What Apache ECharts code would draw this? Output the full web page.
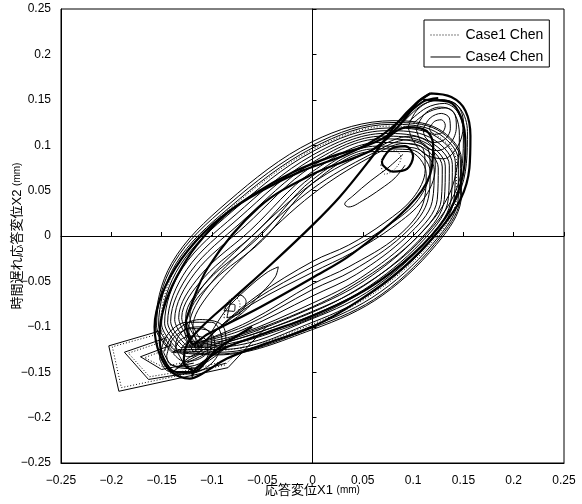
<!DOCTYPE html>
<html><head><meta charset="utf-8">
<script src="https://cdn.jsdelivr.net/npm/echarts@6/dist/echarts.min.js"></script>
<style>html,body{margin:0;padding:0;background:#fff}#c{width:582px;height:504px}</style>
</head><body><div id="c"></div>
<script>
const AXIS_MIN = -0.25, AXIS_MAX = 0.25, AXIS_STEP = 0.05;
const legendNames = ['Case1 Chen', 'Case4 Chen'];
const xTitle = '応答変位X1 ';
const yTitle = '時間遅れ応答変位X2 ';
const unitText = '(mm)';

// ---- Case4 Chen : thin big loops ----
const A1 = [[-0.140,-0.128],[-0.156,-0.100],[-0.140,-0.030],[-0.085,0.037],[0,0.104],[0.080,0.127],[0.125,0.118],[0.148,0.085],[0.148,0.045],[0.130,0.000],[0.070,-0.065],[0,-0.103],[-0.095,-0.131],[-0.140,-0.128]];
const A1b = [[-0.139,-0.127],[-0.155,-0.099],[-0.138,-0.030],[-0.084,0.034],[0,0.100],[0.079,0.125],[0.124,0.117],[0.147,0.084],[0.147,0.045],[0.128,0.000],[0.069,-0.064],[0,-0.101],[-0.094,-0.130],[-0.139,-0.127]];
const A2 = [[-0.137,-0.126],[-0.153,-0.098],[-0.136,-0.031],[-0.083,0.031],[0,0.097],[0.078,0.123],[0.122,0.115],[0.145,0.083],[0.145,0.044],[0.126,0.000],[0.067,-0.062],[0,-0.099],[-0.092,-0.128],[-0.137,-0.126]];
const A3 = [[-0.134,-0.125],[-0.150,-0.097],[-0.132,-0.033],[-0.080,0.027],[0,0.093],[0.076,0.119],[0.119,0.112],[0.142,0.081],[0.141,0.043],[0.122,0.000],[0.064,-0.059],[0,-0.095],[-0.090,-0.125],[-0.134,-0.125]];
const A4 = [[-0.131,-0.123],[-0.147,-0.096],[-0.129,-0.035],[-0.077,0.023],[0,0.089],[0.074,0.116],[0.116,0.109],[0.139,0.079],[0.138,0.042],[0.118,0.000],[0.061,-0.057],[0,-0.091],[-0.087,-0.122],[-0.131,-0.123]];
const A5 = [[-0.128,-0.122],[-0.144,-0.095],[-0.125,-0.037],[-0.074,0.019],[0,0.085],[0.072,0.113],[0.113,0.106],[0.136,0.078],[0.135,0.041],[0.114,0.000],[0.058,-0.054],[0,-0.087],[-0.085,-0.119],[-0.128,-0.122]];
const A6 = [[-0.125,-0.121],[-0.141,-0.094],[-0.121,-0.039],[-0.071,0.015],[0,0.081],[0.070,0.110],[0.110,0.104],[0.132,0.077],[0.131,0.040],[0.110,0.000],[0.055,-0.052],[0,-0.083],[-0.082,-0.116],[-0.125,-0.121]];
const A7 = [[-0.122,-0.120],[-0.137,-0.092],[-0.117,-0.041],[-0.067,0.011],[0,0.077],[0.068,0.107],[0.107,0.102],[0.129,0.076],[0.128,0.040],[0.105,0.000],[0.052,-0.049],[0,-0.079],[-0.079,-0.113],[-0.122,-0.120]];
const A8 = [[-0.119,-0.119],[-0.133,-0.090],[-0.112,-0.044],[-0.062,0.006],[0,0.071],[0.066,0.103],[0.104,0.100],[0.125,0.075],[0.124,0.040],[0.100,0.000],[0.048,-0.046],[0,-0.074],[-0.075,-0.109],[-0.119,-0.119]];
const A9 = [[-0.116,-0.118],[-0.130,-0.090],[-0.108,-0.046],[-0.058,0.002],[0,0.066],[0.064,0.099],[0.101,0.097],[0.121,0.073],[0.119,0.038],[0.094,0.000],[0.044,-0.042],[0,-0.066],[-0.071,-0.104],[-0.116,-0.118]];
const A10 = [[-0.113,-0.117],[-0.126,-0.089],[-0.104,-0.049],[-0.054,-0.002],[0,0.062],[0.062,0.096],[0.098,0.095],[0.117,0.071],[0.114,0.037],[0.089,0.000],[0.040,-0.038],[0,-0.059],[-0.067,-0.099],[-0.113,-0.117]];
const A11 = [[-0.110,-0.116],[-0.122,-0.088],[-0.100,-0.051],[-0.050,-0.005],[0,0.058],[0.060,0.093],[0.095,0.093],[0.113,0.069],[0.110,0.036],[0.085,0.000],[0.036,-0.034],[0,-0.053],[-0.063,-0.094],[-0.110,-0.116]];
// inner narrow band
const B1 = [[-0.118,-0.128],[-0.127,-0.105],[-0.112,-0.060],[-0.065,-0.005],[0,0.058],[0.060,0.095],[0.098,0.110],[0.118,0.100],[0.122,0.075],[0.110,0.040],[0.080,0.010],[0.040,-0.018],[0,-0.040],[-0.060,-0.075],[-0.100,-0.108],[-0.118,-0.128]];
const B2 = [[-0.115,-0.126],[-0.123,-0.103],[-0.108,-0.062],[-0.062,-0.008],[0,0.052],[0.058,0.090],[0.095,0.106],[0.114,0.098],[0.117,0.074],[0.105,0.040],[0.076,0.012],[0.038,-0.014],[0,-0.034],[-0.057,-0.070],[-0.097,-0.105],[-0.115,-0.126]];
const B3 = [[-0.112,-0.124],[-0.119,-0.101],[-0.103,-0.064],[-0.058,-0.012],[0,0.046],[0.056,0.086],[0.092,0.102],[0.110,0.096],[0.112,0.073],[0.100,0.042],[0.072,0.015],[0.036,-0.010],[0,-0.028],[-0.054,-0.065],[-0.094,-0.102],[-0.112,-0.124]];
// right lobe outer thin runs
const R1 = [[0.090,0.125],[0.110,0.145],[0.130,0.150],[0.147,0.140],[0.154,0.115],[0.153,0.080],[0.145,0.045],[0.125,0.010],[0.090,-0.030],[0.040,-0.068],[0,-0.090],[-0.050,-0.110],[-0.095,-0.125],[-0.125,-0.140],[-0.140,-0.150]];
const R2 = [[0.095,0.125],[0.113,0.141],[0.131,0.146],[0.144,0.137],[0.150,0.113],[0.149,0.080],[0.141,0.046],[0.121,0.012],[0.087,-0.026],[0.038,-0.063],[0,-0.084],[-0.048,-0.104],[-0.092,-0.120],[-0.122,-0.136],[-0.136,-0.146]];
const R3 = [[0.100,0.124],[0.116,0.137],[0.132,0.141],[0.142,0.133],[0.146,0.111],[0.144,0.078],[0.136,0.046],[0.116,0.013],[0.083,-0.022],[0.035,-0.058],[0,-0.078],[-0.046,-0.099],[-0.090,-0.116],[-0.120,-0.132],[-0.132,-0.142]];
// upper right lobe spirals
const U1 = [[0.095,0.120],[0.105,0.140],[0.125,0.150],[0.143,0.145],[0.150,0.125],[0.145,0.100],[0.130,0.085],[0.112,0.090],[0.100,0.105],[0.095,0.120]];
const U2 = [[0.103,0.118],[0.112,0.135],[0.127,0.142],[0.140,0.137],[0.143,0.120],[0.137,0.102],[0.124,0.094],[0.110,0.100],[0.103,0.118]];
const U3 = [[0.110,0.118],[0.117,0.130],[0.128,0.135],[0.136,0.130],[0.137,0.118],[0.131,0.106],[0.120,0.103],[0.112,0.109],[0.110,0.118]];
const U4 = [[0.116,0.118],[0.121,0.126],[0.128,0.128],[0.132,0.122],[0.129,0.114],[0.121,0.112],[0.116,0.118]];
const V1 = [[0.090,0.090],[0.075,0.075],[0.058,0.061],[0.040,0.044],[0.032,0.035],[0.036,0.032],[0.050,0.039],[0.068,0.052],[0.082,0.064],[0.092,0.078]];
// lower left lobe spirals and small loops
const S1 = [[-0.152,-0.135],[-0.145,-0.110],[-0.125,-0.095],[-0.100,-0.095],[-0.090,-0.115],[-0.100,-0.140],[-0.125,-0.152],[-0.145,-0.148],[-0.152,-0.135]];
const S2 = [[-0.145,-0.132],[-0.138,-0.112],[-0.120,-0.102],[-0.102,-0.105],[-0.097,-0.122],[-0.108,-0.138],[-0.127,-0.144],[-0.142,-0.141],[-0.145,-0.132]];
const S3 = [[-0.138,-0.130],[-0.132,-0.115],[-0.118,-0.110],[-0.106,-0.114],[-0.104,-0.126],[-0.114,-0.136],[-0.128,-0.138],[-0.138,-0.130]];
const S4 = [[-0.132,-0.128],[-0.126,-0.118],[-0.116,-0.116],[-0.110,-0.122],[-0.114,-0.130],[-0.124,-0.133],[-0.132,-0.128]];
const S5 = [[-0.148,-0.128],[-0.136,-0.105],[-0.112,-0.092],[-0.090,-0.098],[-0.086,-0.118],[-0.100,-0.135],[-0.122,-0.146],[-0.140,-0.142],[-0.148,-0.128]];
const S6 = [[-0.128,-0.140],[-0.136,-0.120],[-0.128,-0.104],[-0.112,-0.100],[-0.100,-0.112],[-0.104,-0.132],[-0.116,-0.146],[-0.128,-0.140]];
const L1 = [[-0.100,-0.105],[-0.085,-0.080],[-0.065,-0.058],[-0.045,-0.040],[-0.034,-0.034],[-0.037,-0.045],[-0.050,-0.062],[-0.070,-0.085],[-0.090,-0.100],[-0.100,-0.105]];
const L2 = [[-0.085,-0.090],[-0.080,-0.070],[-0.072,-0.065],[-0.066,-0.072],[-0.072,-0.085],[-0.085,-0.090]];
const L3 = [[-0.088,-0.082],[-0.083,-0.075],[-0.077,-0.076],[-0.078,-0.083],[-0.088,-0.082]];

// ---- Case4 Chen : thick runs ----
const T1 = [[0.117,0.157],[0.138,0.153],[0.152,0.138],[0.157,0.110],[0.156,0.075],[0.147,0.040],[0.125,0.005],[0.090,-0.035],[0.045,-0.072],[0,-0.100],[-0.045,-0.118],[-0.085,-0.135],[-0.110,-0.152],[-0.122,-0.157],[-0.140,-0.150],[-0.152,-0.130],[-0.157,-0.100],[-0.150,-0.065],[-0.130,-0.025],[-0.100,0.012],[-0.060,0.045],[-0.020,0.070],[0.020,0.088],[0.055,0.100],[0.078,0.113],[0.094,0.132],[0.105,0.148],[0.117,0.157]];
const T2 = [[-0.126,-0.094],[-0.104,-0.035],[-0.053,0.032],[0,0.068],[0.058,0.094],[0.095,0.120],[0.113,0.116],[0.120,0.100],[0.117,0.068],[0.095,0.032],[0.039,-0.020],[0,-0.046],[-0.053,-0.079],[-0.104,-0.108],[-0.119,-0.119],[-0.126,-0.094]];
const T3 = [[0.117,0.157],[0.103,0.146],[0.084,0.124],[0.057,0.084],[0.027,0.043],[0,0.012],[-0.040,-0.030],[-0.080,-0.070],[-0.110,-0.100],[-0.125,-0.120],[-0.128,-0.140],[-0.115,-0.150]];
const T4 = [[0.069,0.083],[0.078,0.096],[0.092,0.099],[0.100,0.088],[0.094,0.074],[0.080,0.071],[0.070,0.078],[0.069,0.083]];
const T5 = [[0.110,0.150],[0.135,0.148],[0.148,0.130],[0.152,0.100],[0.148,0.060],[0.132,0.020],[0.100,-0.020],[0.055,-0.058],[0,-0.088],[-0.050,-0.108],[-0.090,-0.125],[-0.115,-0.145],[-0.120,-0.155]];
const T6 = [[-0.060,-0.100],[-0.095,-0.125],[-0.120,-0.150],[-0.135,-0.150],[-0.148,-0.135],[-0.152,-0.110],[-0.148,-0.080],[-0.135,-0.045],[-0.115,-0.010],[-0.085,0.025],[-0.050,0.050],[-0.010,0.072],[0.030,0.088],[0.065,0.108],[0.090,0.130],[0.110,0.148],[0.125,0.152]];

// ---- polygons (lower left) ----
const PS1 = [[-0.150,-0.104],[-0.2025,-0.121],[-0.1925,-0.171],[-0.130,-0.156],[-0.084,-0.145],[-0.045,-0.099]];
const PS2 = [[-0.145,-0.112],[-0.187,-0.128],[-0.163,-0.158],[-0.118,-0.150],[-0.086,-0.140]];
const PS3 = [[-0.140,-0.120],[-0.171,-0.133],[-0.150,-0.147],[-0.118,-0.140]];

// ---- Case1 Chen (dotted) ----
const PD1 = [[-0.150,-0.107],[-0.199,-0.122],[-0.190,-0.167],[-0.130,-0.153],[-0.087,-0.142],[-0.048,-0.098]];
const PD2 = [[-0.145,-0.115],[-0.183,-0.129],[-0.162,-0.155],[-0.118,-0.147],[-0.089,-0.138]];
const PD3 = [[-0.140,-0.123],[-0.167,-0.134],[-0.149,-0.144],[-0.118,-0.137]];
const D1 = [[0.068,0.078],[0.072,0.090],[0.082,0.094],[0.088,0.086],[0.082,0.074],[0.072,0.068],[0.068,0.078]];
const D2 = [[-0.088,-0.090],[-0.084,-0.072],[-0.076,-0.068],[-0.072,-0.076],[-0.078,-0.088],[-0.088,-0.090]];
const D3 = [[-0.135,-0.127],[-0.151,-0.099],[-0.134,-0.031],[-0.083,0.029],[0,0.095],[0.077,0.121],[0.120,0.113],[0.143,0.082],[0.143,0.043],[0.124,0.000],[0.065,-0.060],[0,-0.097],[-0.091,-0.126],[-0.135,-0.127]];

const case4Thin = [A1,A1b,A2,A3,A4,A5,A6,A7,A8,A9,A10,A11,B1,B2,B3,R1,R2,R3,U1,U2,U3,U4,V1,S1,S2,S3,S4,S5,S6,L1,L2,L3];
const case4Thick = [T1,T2,T3,T4,T5,T6];
const case4Poly = [PS1,PS2,PS3];
const case1Smooth = [D1,D2,D3];
const case1Poly = [PD1,PD2,PD3];

const FONT = "'Liberation Sans','Noto Sans CJK JP',sans-serif";
const series = [];
function add(name, data, width, type, smooth) {
  series.push({
    type: 'line', name: name, data: data, smooth: smooth ? 0.35 : false,
    symbol: 'none', silent: true, animation: false,
    itemStyle: { color: '#000' },
    lineStyle: { color: '#000', width: width, type: type }
  });
}
case4Thin.forEach(d => add(legendNames[1], d, 1, 'solid', true));
case4Thick.forEach(d => add(legendNames[1], d, 2.2, 'solid', true));
case4Poly.forEach(d => add(legendNames[1], d, 1, 'solid', false));
case1Poly.forEach(d => add(legendNames[0], d, 1, [1, 2], false));
case1Smooth.forEach(d => add(legendNames[0], d, 1, [1, 2], true));

const fmt = v => String(Math.round(v * 100) / 100).replace('-', '\u2212');
const chart = echarts.init(document.getElementById('c'));
chart.setOption({
  animation: false,
  backgroundColor: '#fff',
  textStyle: { fontFamily: FONT },
  grid: { left: 61, right: 18, top: 9, bottom: 41, show: true, borderColor: '#000', borderWidth: 1, backgroundColor: 'transparent',
          containLabel: false, outerBoundsMode: 'none' },
  legend: {
    data: [
      { name: legendNames[0], lineStyle: { type: [1, 2], width: 1, color: '#000' } },
      { name: legendNames[1], lineStyle: { type: 'solid', width: 1, color: '#000' } }
    ],
    orient: 'vertical', left: 424, top: 20,
    padding: [8, 6, 3, 6], itemWidth: 30, itemHeight: 14, itemGap: 8,
    backgroundColor: '#fff', borderColor: '#000', borderWidth: 1, borderRadius: 0,
    itemStyle: { opacity: 0 },
    textStyle: { fontSize: 14, color: '#000', fontFamily: FONT },
    selectedMode: false
  },
  xAxis: [
    { type: 'value', min: AXIS_MIN, max: AXIS_MAX, interval: AXIS_STEP, position: 'bottom',
      axisLine: { onZero: false, lineStyle: { color: '#000', width: 1 } },
      axisTick: { show: false }, splitLine: { show: false },
      axisLabel: { formatter: fmt, color: '#000', fontSize: 12, margin: 12, fontFamily: FONT },
      name: xTitle + '{s|' + unitText + '}', nameLocation: 'middle', nameGap: 21, nameMoveOverlap: false,
      nameTextStyle: { color: '#000', fontSize: 13, fontFamily: FONT, rich: { s: { fontSize: 10, fontFamily: FONT } } } },
    { type: 'value', min: AXIS_MIN, max: AXIS_MAX, interval: AXIS_STEP, position: 'top',
      axisLine: { onZero: true, onZeroAxisIndex: 0, lineStyle: { color: '#000', width: 1 } },
      axisTick: { show: true, inside: false, length: 4, lineStyle: { color: '#000' } },
      axisLabel: { show: false }, splitLine: { show: false } }
  ],
  yAxis: [
    { type: 'value', min: AXIS_MIN, max: AXIS_MAX, interval: AXIS_STEP, position: 'left',
      axisLine: { onZero: false, lineStyle: { color: '#000', width: 1 } },
      axisTick: { show: false }, splitLine: { show: false },
      axisLabel: { formatter: fmt, color: '#000', fontSize: 12, margin: 10, fontFamily: FONT },
      name: yTitle + '{s|' + unitText + '}', nameLocation: 'middle', nameGap: 37, nameRotate: 90, nameMoveOverlap: false,
      nameTextStyle: { color: '#000', fontSize: 13, fontFamily: FONT, rich: { s: { fontSize: 10, fontFamily: FONT } } } },
    { type: 'value', min: AXIS_MIN, max: AXIS_MAX, interval: AXIS_STEP, position: 'right',
      axisLine: { onZero: true, onZeroAxisIndex: 0, lineStyle: { color: '#000', width: 1 } },
      axisTick: { show: true, inside: false, length: 4, lineStyle: { color: '#000' } },
      axisLabel: { show: false }, splitLine: { show: false } }
  ],
  series: series
});
</script>
</body></html>
